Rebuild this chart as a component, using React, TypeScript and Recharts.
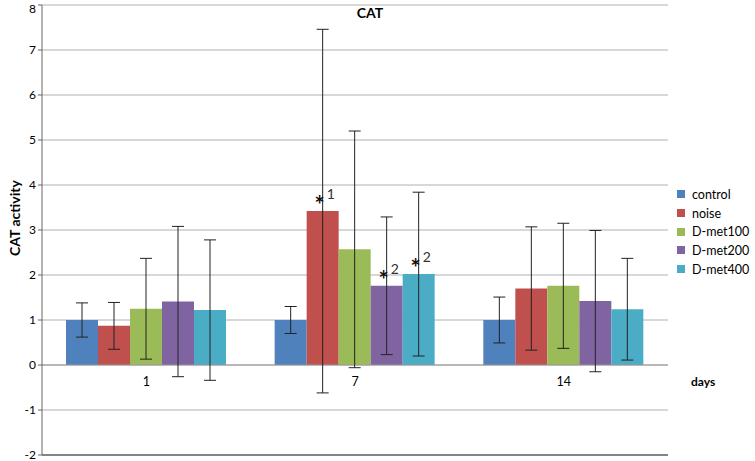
import React from "react";
import {
  BarChart,
  Bar,
  XAxis,
  YAxis,
  CartesianGrid,
  ErrorBar,
  LabelList,
  ReferenceLine,
} from "recharts";

const days = ["1", "7", "14"];
const yTicks = [-2, -1, 0, 1, 2, 3, 4, 5, 6, 7, 8];

const control = [1.0, 1.0, 1.0];
const controlErr = [0.38, 0.3, 0.51];
const noise = [0.87, 3.42, 1.7];
const noiseErr = [0.52, 4.04, 1.37];
const dmet100 = [1.25, 2.57, 1.76];
const dmet100Err = [1.12, 2.63, 1.39];
const dmet200 = [1.41, 1.76, 1.42];
const dmet200Err = [1.67, 1.53, 1.57];
const dmet400 = [1.22, 2.02, 1.24];
const dmet400Err = [1.56, 1.82, 1.13];

// significance marks drawn above bars
const noiseSig = ["", "1", ""];
const dmet200Sig = ["", "2", ""];
const dmet400Sig = ["", "2", ""];

const series = [
  { key: "control", name: "control", color: "#4F81BD" },
  { key: "noise", name: "noise", color: "#C0504D" },
  { key: "dmet100", name: "D-met100", color: "#9BBB59" },
  { key: "dmet200", name: "D-met200", color: "#8064A2" },
  { key: "dmet400", name: "D-met400", color: "#4BACC6" },
];

const data = days.map((d, i) => ({
  day: d,
  control: control[i],
  controlErr: controlErr[i],
  noise: noise[i],
  noiseErr: noiseErr[i],
  noiseSig: noiseSig[i],
  dmet100: dmet100[i],
  dmet100Err: dmet100Err[i],
  dmet200: dmet200[i],
  dmet200Err: dmet200Err[i],
  dmet200Sig: dmet200Sig[i],
  dmet400: dmet400[i],
  dmet400Err: dmet400Err[i],
  dmet400Sig: dmet400Sig[i],
}));

const font = "Lato, 'Open Sans', sans-serif";

function renderSig(props: any) {
  const { x, y, width, value } = props;
  if (!value) return null;
  const cx = Number(x) + Number(width) / 2;
  const top = Number(y);
  return (
    <g>
      <text x={cx - 3} y={top + 3} textAnchor="middle" fontSize={24} fontWeight="bold" fill="#111" fontFamily={font}>
        *
      </text>
      <text x={cx + 4} y={top - 12} fontSize={14} fill="#333" fontFamily={font}>
        {value}
      </text>
    </g>
  );
}

function DayTick(props: any) {
  const { x, y, payload } = props;
  return (
    <text x={x} y={y - 77} textAnchor="middle" fontSize={12.5} fill="#000" fontFamily={font}>
      {payload.value}
    </text>
  );
}

function ValueTick(props: any) {
  const { x, y, payload } = props;
  const ny = Math.max(Number(y), 9);
  return (
    <text x={x} y={ny} dy={4} textAnchor="end" fontSize={12} fill="#000" fontFamily={font}>
      {payload.value}
    </text>
  );
}

export default function App() {
  return (
    <div style={{ position: "absolute", left: 0, top: 0, width: 755, height: 461, background: "#fff", fontFamily: font }}>
      <BarChart
        width={755}
        height={461}
        data={data}
        margin={{ top: 5, right: 87, left: 12, bottom: 5 }}
        barGap={0}
        barSize={32}
      >
        <CartesianGrid vertical={false} stroke="#b0b0b0" />
        <XAxis
          dataKey="day"
          height={1}
          tickLine={false}
          axisLine={{ stroke: "#333" }}
          tick={<DayTick />}
          interval={0}
        />
        <YAxis
          width={30}
          domain={[-2, 8]}
          ticks={yTicks}
          tickSize={4}
          axisLine={{ stroke: "#666" }}
          tickLine={{ stroke: "#666" }}
          tick={<ValueTick />}
          interval={0}
        />
        <ReferenceLine y={0} stroke="#999" />
        {series.map((s) => (
          <Bar key={s.key} dataKey={s.key} name={s.name} fill={s.color} isAnimationActive={false}>
            <ErrorBar dataKey={s.key + "Err"} width={6} stroke="#222" strokeWidth={1} direction="y" />
            {(s.key === "noise" || s.key === "dmet200" || s.key === "dmet400") && (
              <LabelList dataKey={s.key + "Sig"} content={renderSig} />
            )}
          </Bar>
        ))}
      </BarChart>

      <div style={{ position: "absolute", left: 0, width: 740, top: 4, textAlign: "center", fontSize: 14, fontWeight: "bold" }}>
        CAT
      </div>
      <div
        style={{
          position: "absolute",
          left: 14,
          top: 218,
          transform: "translate(-50%, -50%) rotate(-90deg)",
          whiteSpace: "nowrap",
          fontSize: 14,
          fontWeight: "bold",
        }}
      >
        CAT activity
      </div>
      <div style={{ position: "absolute", left: 691, top: 374, fontSize: 12, fontWeight: "bold" }}>days</div>

      <div style={{ position: "absolute", left: 677, top: 185 }}>
        {series.map((s) => (
          <div key={s.key} style={{ display: "flex", alignItems: "center", height: 18.7, fontSize: 12.5 }}>
            <span style={{ width: 8, height: 8, background: s.color, marginRight: 7, display: "inline-block" }} />
            <span>{s.name}</span>
          </div>
        ))}
      </div>
    </div>
  );
}
